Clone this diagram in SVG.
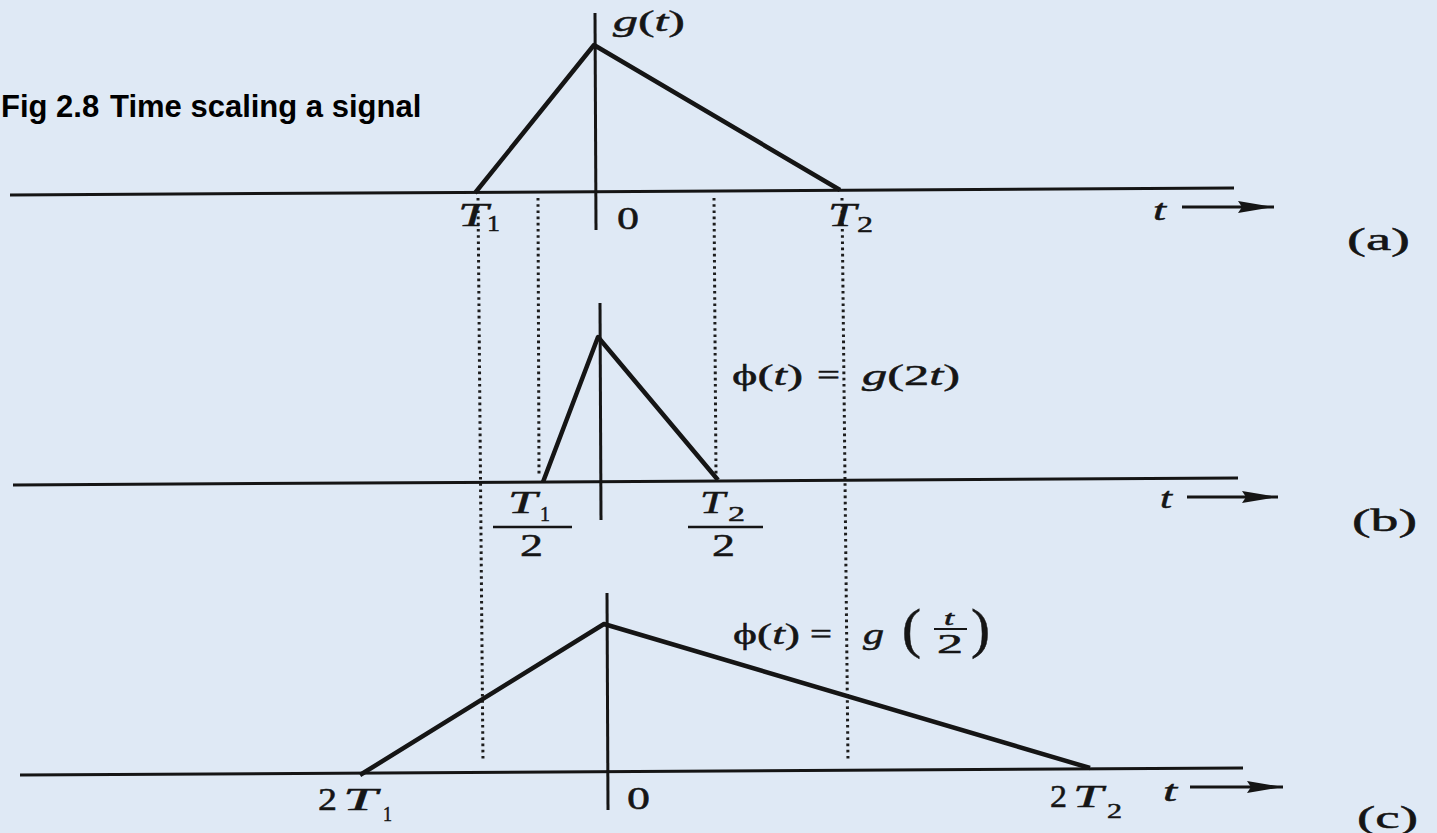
<svg xmlns="http://www.w3.org/2000/svg" width="1437" height="833" viewBox="0 0 1437 833">
<style>
.bg{fill:#dfe9f5}
.ax{stroke:#151515;stroke-width:3;fill:none}
.sig{stroke:#151515;stroke-width:4.5;fill:none;stroke-linejoin:round}
.dot{stroke:#1c1c1c;stroke-width:3;stroke-dasharray:2.6 3.6;fill:none}
.arr{stroke:#151515;stroke-width:3.2;fill:none}
.bar{stroke:#151515;stroke-width:2.5}
text{fill:#151515;stroke:#151515;stroke-width:0.5;font-family:"Liberation Serif","Times New Roman",serif}
.i{font-style:italic}
.title{font-family:"Liberation Sans",Arial,sans-serif;font-weight:bold;font-size:31px;fill:#000;stroke:none}
</style>
<defs>
<marker id="ah" markerUnits="userSpaceOnUse" markerWidth="36" markerHeight="14" refX="36" refY="7" orient="auto">
<path d="M0,1 L36,7 L0,13 L4,7 Z" fill="#151515"/>
</marker>
</defs>
<rect class="bg" x="0" y="0" width="1437" height="833"/>

<g id="title">
<text class="title" x="1" y="117">Fig 2.8</text>
<text class="title" x="110" y="117">Time scaling a signal</text>
</g>

<g id="guides">
<path class="dot" d="M478,198 L483,762"/>
<path class="dot" d="M538,198 L539,475"/>
<path class="dot" d="M714,198 L716,475"/>
<path class="dot" d="M842,198 L848,762"/>
</g>

<g id="panel-a">
<path class="ax" d="M10,195 L1234,188"/>
<path class="ax" d="M595,13 L596,230"/>
<path class="sig" d="M475,193 L594,45 L840,190"/>
<text x="613" y="31" font-size="30" textLength="72" lengthAdjust="spacingAndGlyphs"><tspan class="i">g</tspan>(<tspan class="i">t</tspan>)</text>
<text class="i" x="458" y="226" font-size="34" textLength="30" lengthAdjust="spacingAndGlyphs">T</text>
<text x="487" y="231" font-size="24" textLength="13" lengthAdjust="spacingAndGlyphs">1</text>
<text x="617" y="229" font-size="32" textLength="22" lengthAdjust="spacingAndGlyphs">0</text>
<text class="i" x="828" y="226" font-size="34" textLength="28" lengthAdjust="spacingAndGlyphs">T</text>
<text x="857" y="232" font-size="24" textLength="16" lengthAdjust="spacingAndGlyphs">2</text>
<text class="i" x="1153" y="220" font-size="30" textLength="13" lengthAdjust="spacingAndGlyphs">t</text>
<path class="arr" d="M1182,207 L1274,207" marker-end="url(#ah)"/>
<text x="1347" y="250" font-size="32" textLength="63" lengthAdjust="spacingAndGlyphs">(a)</text>
</g>

<g id="panel-b">
<path class="ax" d="M13,485 L1238,478"/>
<path class="ax" d="M600,303 L601,520"/>
<path class="sig" d="M543,482 L598,337 L718,480"/>
<text x="732" y="385" font-size="30" textLength="71" lengthAdjust="spacingAndGlyphs">ϕ(<tspan class="i">t</tspan>)</text>
<text x="817" y="385" font-size="30" textLength="23" lengthAdjust="spacingAndGlyphs">=</text>
<text x="862" y="385" font-size="30" textLength="98" lengthAdjust="spacingAndGlyphs"><tspan class="i">g</tspan>(2<tspan class="i">t</tspan>)</text>
<text class="i" x="508" y="513" font-size="32" textLength="29" lengthAdjust="spacingAndGlyphs">T</text>
<text x="540" y="521" font-size="22" textLength="10" lengthAdjust="spacingAndGlyphs">1</text>
<line class="bar" x1="493" y1="527" x2="572" y2="527"/>
<text x="520" y="556" font-size="31" textLength="23" lengthAdjust="spacingAndGlyphs">2</text>
<text class="i" x="700" y="513" font-size="32" textLength="25" lengthAdjust="spacingAndGlyphs">T</text>
<text x="728" y="521" font-size="22" textLength="17" lengthAdjust="spacingAndGlyphs">2</text>
<line class="bar" x1="688" y1="527" x2="763" y2="527"/>
<text x="712" y="556" font-size="31" textLength="23" lengthAdjust="spacingAndGlyphs">2</text>
<text class="i" x="1160" y="508" font-size="30" textLength="12" lengthAdjust="spacingAndGlyphs">t</text>
<path class="arr" d="M1187,497 L1278,497" marker-end="url(#ah)"/>
<text x="1352" y="531" font-size="32" textLength="65" lengthAdjust="spacingAndGlyphs">(b)</text>
</g>

<g id="panel-c">
<path class="ax" d="M20,775 L1243,768"/>
<path class="ax" d="M607,593 L608,810"/>
<path class="sig" d="M360,775 L604,624 L1090,768"/>
<text x="733" y="644" font-size="30" textLength="67" lengthAdjust="spacingAndGlyphs">ϕ(<tspan class="i">t</tspan>)</text>
<text x="810" y="644" font-size="30" textLength="22" lengthAdjust="spacingAndGlyphs">=</text>
<text class="i" x="863" y="644" font-size="30" textLength="21" lengthAdjust="spacingAndGlyphs">g</text>
<text x="902" y="647" font-size="54" textLength="19" lengthAdjust="spacingAndGlyphs">(</text>
<text class="i" x="944" y="625" font-size="22" textLength="10" lengthAdjust="spacingAndGlyphs">t</text>
<line class="bar" x1="934" y1="629" x2="967" y2="629" style="stroke-width:2"/>
<text x="937" y="653" font-size="27" textLength="26" lengthAdjust="spacingAndGlyphs">2</text>
<text x="971" y="647" font-size="54" textLength="19" lengthAdjust="spacingAndGlyphs">)</text>
<text x="318" y="810" font-size="31" textLength="19" lengthAdjust="spacingAndGlyphs">2</text>
<text class="i" x="343" y="810" font-size="32" textLength="34" lengthAdjust="spacingAndGlyphs">T</text>
<text x="383" y="821" font-size="20" textLength="9" lengthAdjust="spacingAndGlyphs">1</text>
<text x="627" y="809" font-size="31" textLength="23" lengthAdjust="spacingAndGlyphs">0</text>
<text x="1050" y="807" font-size="31" textLength="17" lengthAdjust="spacingAndGlyphs">2</text>
<text class="i" x="1073" y="807" font-size="32" textLength="30" lengthAdjust="spacingAndGlyphs">T</text>
<text x="1107" y="818" font-size="20" textLength="15" lengthAdjust="spacingAndGlyphs">2</text>
<text class="i" x="1163" y="801" font-size="30" textLength="14" lengthAdjust="spacingAndGlyphs">t</text>
<path class="arr" d="M1190,787 L1283,787" marker-end="url(#ah)"/>
<text x="1357" y="828" font-size="32" textLength="61" lengthAdjust="spacingAndGlyphs">(c)</text>
</g>
</svg>
